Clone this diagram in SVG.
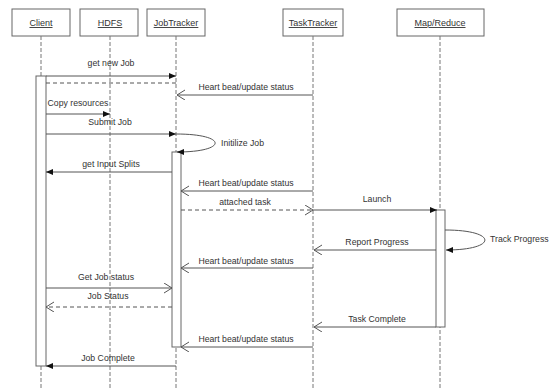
<svg xmlns="http://www.w3.org/2000/svg" width="550" height="390" viewBox="0 0 550 390">
<defs>
<style>
.hbox{fill:#fff;stroke:#666;stroke-width:1}
.htxt{font-family:"Liberation Sans",Arial,sans-serif;font-size:9px;fill:#333;text-anchor:middle;text-decoration:underline}
.life{stroke:#777;stroke-width:1;stroke-dasharray:4,2;fill:none}
.act{fill:#fff;stroke:#666;stroke-width:1}
.msg{stroke:#555;stroke-width:1;fill:none}
.dash{stroke-dasharray:4,3}
.lbl{font-family:"Liberation Sans",Arial,sans-serif;font-size:8.7px;fill:#333;text-anchor:middle}
.lbls{font-family:"Liberation Sans",Arial,sans-serif;font-size:8.7px;fill:#333}
</style>
<marker id="fill" markerUnits="userSpaceOnUse" markerWidth="8" markerHeight="8" refX="7" refY="3" orient="auto">
<path d="M0,0 L7,3 L0,6 z" fill="#111"/>
</marker>
<marker id="open" markerUnits="userSpaceOnUse" markerWidth="10" markerHeight="12" refX="8" refY="5" orient="auto">
<path d="M0,0 L8,5 L0,10" fill="none" stroke="#555" stroke-width="1"/>
</marker>
</defs>
<rect width="550" height="390" fill="#fff"/>

<g id="client">
<rect class="hbox" x="12" y="9" width="58" height="27"/>
<text class="htxt" x="41" y="26">Client</text>
<line class="life" x1="41" y1="36" x2="41" y2="390"/>
<rect class="act" x="36" y="76" width="10" height="290"/>
</g>
<g id="hdfs">
<rect class="hbox" x="80" y="9" width="58" height="27"/>
<text class="htxt" x="110" y="26">HDFS</text>
<line class="life" x1="110" y1="36" x2="110" y2="390"/>
</g>
<g id="jobtracker">
<rect class="hbox" x="147" y="9" width="58" height="27"/>
<text class="htxt" x="176" y="26">JobTracker</text>
<line class="life" x1="176" y1="36" x2="176" y2="390"/>
<rect class="act" x="172" y="152" width="9" height="195"/>
</g>
<g id="tasktracker">
<rect class="hbox" x="283" y="9" width="60" height="27"/>
<text class="htxt" x="313" y="26">TaskTracker</text>
<line class="life" x1="313" y1="36" x2="313" y2="390"/>
</g>
<g id="mapreduce">
<rect class="hbox" x="397" y="9" width="87" height="27"/>
<text class="htxt" x="440" y="26">Map/Reduce</text>
<line class="life" x1="440" y1="36" x2="440" y2="390"/>
<rect class="act" x="436" y="210" width="9" height="117"/>
</g>

<g id="connectors">
<line class="msg" x1="46" y1="76" x2="176" y2="76" marker-end="url(#fill)"/>
<text class="lbl" x="111" y="66">get new Job</text>
<line class="msg dash" x1="46" y1="83" x2="176" y2="83"/>
<line class="msg" x1="313" y1="95" x2="177" y2="95" marker-end="url(#open)"/>
<text class="lbl" x="246" y="90">Heart beat/update status</text>
<line class="msg" x1="46" y1="114" x2="110" y2="114" marker-end="url(#fill)"/>
<text class="lbl" x="78" y="106">Copy resources</text>
<line class="msg" x1="46" y1="134" x2="176" y2="134" marker-end="url(#fill)"/>
<text class="lbl" x="110" y="125">Submit Job</text>
<path class="msg" d="M176,134 C228,134 228,152 177,152" stroke="#888" marker-end="url(#fill)"/>
<text class="lbls" x="221" y="146">Initilize Job</text>
<line class="msg" x1="172" y1="172" x2="46" y2="172" marker-end="url(#fill)"/>
<text class="lbl" x="111" y="167">get Input Splits</text>
<line class="msg" x1="313" y1="191" x2="181" y2="191" marker-end="url(#open)"/>
<text class="lbl" x="246" y="186">Heart beat/update status</text>
<line class="msg dash" x1="181" y1="210" x2="313" y2="210" marker-end="url(#open)"/>
<text class="lbl" x="245" y="205">attached task</text>
<line class="msg" x1="313" y1="210" x2="437" y2="210" marker-end="url(#fill)"/>
<text class="lbl" x="377" y="202">Launch</text>
<path class="msg" d="M445,230 C498,230 498,250 446,250" stroke="#888" marker-end="url(#fill)"/>
<text class="lbls" x="490" y="242">Track Progress</text>
<line class="msg" x1="436" y1="250" x2="314" y2="250" marker-end="url(#open)"/>
<text class="lbl" x="377" y="245">Report Progress</text>
<line class="msg" x1="313" y1="268" x2="181" y2="268" marker-end="url(#open)"/>
<text class="lbl" x="246" y="264">Heart beat/update status</text>
<line class="msg" x1="46" y1="288" x2="172" y2="288" marker-end="url(#open)"/>
<text class="lbl" x="106" y="280">Get Job status</text>
<line class="msg dash" x1="172" y1="307" x2="46" y2="307" marker-end="url(#open)"/>
<text class="lbl" x="108" y="299">Job Status</text>
<line class="msg" x1="436" y1="327" x2="314" y2="327" marker-end="url(#open)"/>
<text class="lbl" x="377" y="322">Task Complete</text>
<line class="msg" x1="313" y1="347" x2="181" y2="347" marker-end="url(#open)"/>
<text class="lbl" x="246" y="342">Heart beat/update status</text>
<line class="msg" x1="176" y1="366" x2="46" y2="366" marker-end="url(#fill)"/>
<text class="lbl" x="108" y="361">Job Complete</text>
</g>
</svg>
